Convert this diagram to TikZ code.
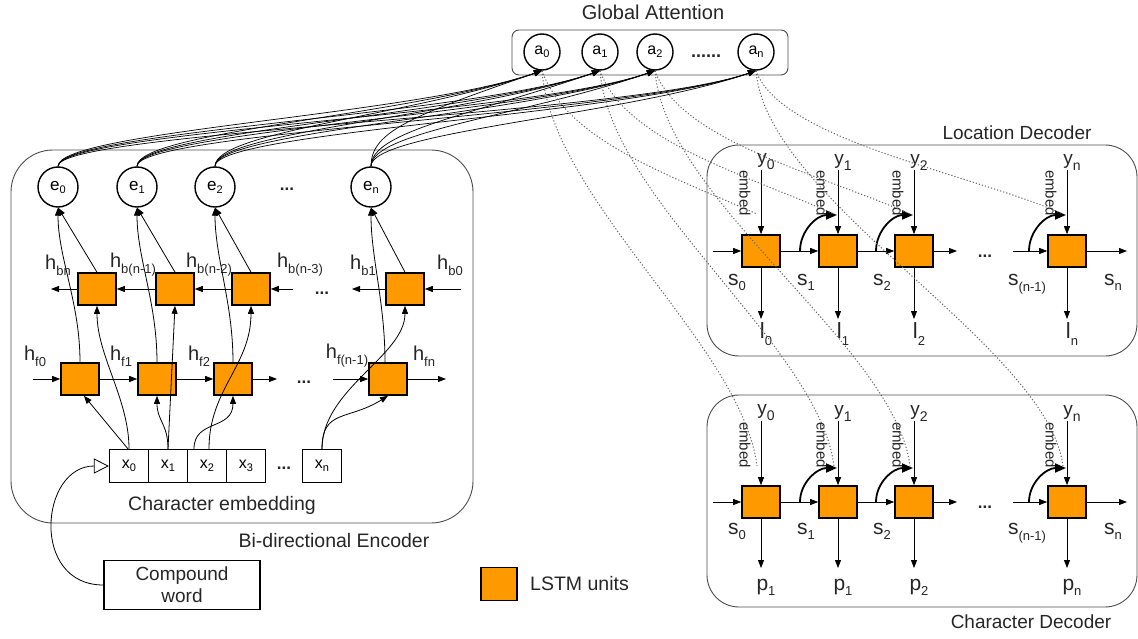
\documentclass[tikz,border=0pt]{standalone}
\usepackage{fontspec}
\setmainfont{Liberation Sans}
\usetikzlibrary{arrows.meta,calc}
\definecolor{lstm}{RGB}{255,153,0}
\newcommand\fs[1]{\fontsize{#1}{#1}\selectfont}
\newcommand\sx[5]{{\fs{#1}#3}\raisebox{-#5pt}{\fs{#2}#4}}
\begin{document}
\begin{tikzpicture}[x=1pt,y=-1pt,
 lstmbox/.style={draw, line width=1.6pt, fill=lstm, minimum width=38pt, minimum height=32pt, inner sep=0},
 ecirc/.style={draw, circle, line width=1.4pt, minimum size=40pt, inner sep=0},
 acirc/.style={draw, circle, line width=1.4pt, minimum size=36pt, inner sep=0},
 cell/.style={draw, line width=1.2pt, minimum width=39pt, minimum height=33pt, inner sep=0},
 arr/.style={-{Triangle[length=8pt,width=6pt]}, line width=0.8pt},
 attn/.style={-{Triangle[length=8pt,width=6pt]}, line width=0.7pt},
 thickarr/.style={-{Triangle[length=11pt,width=9pt]}, line width=1.8pt},
 dotl/.style={line width=1pt, black!60, dash pattern=on 1.2pt off 2pt},
 region/.style={draw, line width=0.9pt, black!70},
 lbl/.style={inner sep=0, text=black!85},
]
\useasboundingbox (0,0) rectangle (1138,639);

% ---------- Global attention ----------
\node[lbl] (gat) at (653,12) {\fs{20}Global Attention};
\draw[region, rounded corners=7pt] (512,30) rectangle (788,75);
\node[acirc] (a0) at (542,52) {\sx{16}{11}{a}{0}{3}};
\node[acirc] (a1) at (600,52) {\sx{16}{11}{a}{1}{3}};
\node[acirc] (a2) at (655,52) {\sx{16}{11}{a}{2}{3}};
\node[acirc] (an) at (756,52) {\sx{16}{11}{a}{n}{3}};
\node[lbl] (adots) at (706,56) {\fs{18}\textbf{......}};

% ---------- Encoder ----------
\draw[region, rounded corners=42pt] (11,150) rectangle (473,523);
\node[lbl] (enclab) at (334,541) {\fs{19.5}Bi-directional Encoder};

\node[ecirc] (e0) at (58,187) {\sx{17}{11}{e}{0}{3}};
\node[ecirc] (e1) at (137,187) {\sx{17}{11}{e}{1}{3}};
\node[ecirc] (e2) at (215,187) {\sx{17}{11}{e}{2}{3}};
\node[ecirc] (en) at (371,187) {\sx{17}{11}{e}{n}{3}};
\node[lbl] (edots) at (287,189) {\fs{17}\textbf{...}};

\node[lstmbox] (bb0) at (97,289) {};
\node[lstmbox] (bb1) at (175,289) {};
\node[lstmbox] (bb2) at (251,289) {};
\node[lstmbox] (bbn) at (405,289) {};
\node[lbl] (bdots) at (322,293) {\fs{17}\textbf{...}};

\node[lstmbox] (fb0) at (80,379) {};
\node[lstmbox] (fb1) at (157,379) {};
\node[lstmbox] (fb2) at (233,379) {};
\node[lstmbox] (fbn) at (388,379) {};
\node[lbl] (fdots) at (304,382) {\fs{17}\textbf{...}};

\node[lbl] (hbn) at (58,265) {\sx{20}{13}{h}{bn}{6}};
\node[lbl] (hb1n) at (133,265) {\sx{20}{13}{h}{b(n-1)}{6}};
\node[lbl] (hb2n) at (209,265) {\sx{20}{13}{h}{b(n-2)}{6}};
\node[lbl] (hb3n) at (300,265) {\sx{20}{13}{h}{b(n-3)}{6}};
\node[lbl] (hb1) at (363,265) {\sx{20}{13}{h}{b1}{6}};
\node[lbl] (hb0) at (450,265) {\sx{20}{13}{h}{b0}{6}};

\node[lbl] (hf0) at (35,356) {\sx{20}{13}{h}{f0}{6}};
\node[lbl] (hf1) at (121,356) {\sx{20}{13}{h}{f1}{6}};
\node[lbl] (hf2) at (199,356) {\sx{20}{13}{h}{f2}{6}};
\node[lbl] (hfn1) at (347,356) {\sx{20}{13}{h}{f(n-1)}{6}};
\node[lbl] (hfn) at (424,356) {\sx{20}{13}{h}{fn}{6}};

\node[cell] (x0) at (129,466) {\sx{16}{11}{x}{0}{3}};
\node[cell] (x1) at (168,466) {\sx{16}{11}{x}{1}{3}};
\node[cell] (x2) at (207,466) {\sx{16}{11}{x}{2}{3}};
\node[cell] (x3) at (246,466) {\sx{16}{11}{x}{3}{3}};
\node[cell] (xn) at (322,466) {\sx{16}{11}{x}{n}{3}};
\node[lbl] (xdots) at (284,468) {\fs{17}\textbf{...}};
\node[lbl] (cemb) at (222,505) {\fs{19.5}Character embedding};

% forward row
\coordinate (fin) at (33,379);
\coordinate (fout2) at (277,379);
\coordinate (finn) at (333,379);
\coordinate (foutn) at (446,379);
\draw[arr] (fin) -- (fb0.west);
\draw[arr] (fb0.east) -- (fb1.west);
\draw[arr] (fb1.east) -- (fb2.west);
\draw[arr] (fb2.east) -- (fout2);
\draw[arr] (finn) -- (fbn.west);
\draw[arr] (fbn.east) -- (foutn);
% backward row
\coordinate (bout0) at (51,289);
\coordinate (bin2) at (293,289);
\coordinate (boutn) at (352,289);
\coordinate (binn) at (461,289);
\draw[arr] (bb0.west) -- (bout0);
\draw[arr] (bb1.west) -- (bb0.east);
\draw[arr] (bb2.west) -- (bb1.east);
\draw[arr] (bin2) -- (bb2.east);
\draw[arr] (bbn.west) -- (boutn);
\draw[arr] (binn) -- (bbn.east);

% inputs to LSTMs
\draw[arr] ($(x0.north)+(-1,0)$) -- ($(fb0.south)+(4,0)$);
\draw[arr] (x0.north) .. controls +(0,-50) and +(0,50) .. (bb0.south);
\draw[arr] (x1.north) .. controls +(0,-25) and +(0,25) .. (fb1.south);
\draw[arr] (x1.north) -- (bb1.south);
\draw[arr] ($(x2.north)+(-13,0)$) .. controls +(0,-30) and +(0,35) .. (fb2.south);
\draw[arr] ($(x2.north)+(2,0)$) .. controls +(0,-60) and +(0,60) .. (bb2.south);
\draw[arr] (xn.north) .. controls +(0,-40) and +(-40,25) .. (fbn.south);
\draw[arr] (xn.north) .. controls +(0,-60) and +(0,50) .. (bbn.south);

% LSTMs to e
\draw[arr] (fb0.north) .. controls +(0,-60) and +(0,50) .. (e0.south);
\draw[arr] (bb0.north) -- (e0.south);
\draw[arr] (fb1.north) .. controls +(0,-60) and +(0,50) .. (e1.south);
\draw[arr] (bb1.north) -- (e1.south);
\draw[arr] (fb2.north) .. controls +(0,-60) and +(0,50) .. (e2.south);
\draw[arr] (bb2.north) -- (e2.south);
\draw[arr] ($(fbn.north)+(-3,0)$) .. controls +(0,-60) and +(0,50) .. (en.south);
\draw[arr] (bbn.north) -- (en.south);

% e to a
\foreach \i in {0,1,2,n}{
  \foreach \j in {0,1,2,n}{
    \draw[attn] (e\i.north) .. controls +(0,-35) and +(-130,45) .. (a\j.south);
  }
}

% compound word
\node[draw, line width=1.4pt, minimum width=156pt, minimum height=49pt, align=center, inner sep=0, text=black!85, font=\fontsize{19}{22}\selectfont] (cw) at (182,585) {Compound\\word};
\draw[-{Triangle[open,length=15pt,width=15pt]}, line width=0.8pt] (cw.west) .. controls (30,585) and (40,466) .. (x0.west);

% legend
\node[draw, line width=1.6pt, fill=lstm, minimum width=36pt, minimum height=33pt, inner sep=0] (leg) at (499,584) {};
\node[lbl, anchor=west] (legt) at (530,584) {\fs{19.5}LSTM units};

% ---------- Decoders ----------
\draw[region, rounded corners=32pt] (707,145) rectangle (1137,356);
\node[lbl] (loclab) at (1017,133) {\fs{19}Location Decoder};
\draw[region, rounded corners=32pt] (707,395) rectangle (1137,607);
\node[lbl] (chlab) at (1031,622) {\fs{19}Character Decoder};

\foreach \n/\x/\p in {0/761/1,1/838/1,2/914/2,n/1067/n}{
  % location
  \node[lstmbox] (L\n) at (\x,251) {};
  \node[lbl] (Ly\n) at (\x+5,162) {\sx{19}{14}{y}{\n}{6}};
  \draw[arr] (L\n.north |- Ly\n.south) -- (L\n.north);
  \node[lbl, rotate=-90] (Le\n) at (\x-16,193) {\fs{15}embed};
  \coordinate (Lo\n) at (\x,319);
  \draw[arr] (L\n.south) -- (Lo\n);
  \node[lbl] (Ll\n) at (\x+5,334) {\sx{22}{13}{l}{\n}{7}};
  \coordinate (Lt\n) at (\x-4,214);
  % character
  \node[lstmbox] (C\n) at (\x,502) {};
  \node[lbl] (Cy\n) at (\x+5,413) {\sx{19}{14}{y}{\n}{6}};
  \draw[arr] (C\n.north |- Cy\n.south) -- (C\n.north);
  \node[lbl, rotate=-90] (Ce\n) at (\x-16,445) {\fs{15}embed};
  \coordinate (Co\n) at (\x,568);
  \draw[arr] (C\n.south) -- (Co\n);
  \node[lbl] (Cp\n) at (\x+5,587) {\sx{21}{13}{p}{\p}{5}};
  \coordinate (Ct\n) at (\x-4,466);
}

% horizontal state arrows
\foreach \D/\yy/\sy in {L/251/282, C/502/531}{
  \coordinate (\D in) at (713,\yy);
  \coordinate (\D out2) at (957,\yy);
  \coordinate (\D inn) at (1013,\yy);
  \coordinate (\D outn) at (1127,\yy);
  \draw[arr] (\D in) -- (\D0.west);
  \draw[arr] (\D0.east) -- (\D1.west);
  \draw[arr] (\D1.east) -- (\D2.west);
  \draw[arr] (\D2.east) -- (\D out2);
  \draw[arr] (\D inn) -- (\D n.west);
  \draw[arr] (\D n.east) -- (\D outn);
  \node[lbl] (\D dots) at (985,\yy+5) {\fs{17}\textbf{...}};
  \node[lbl] (\D s0) at (737,\sy) {\sx{21}{13}{s}{0}{5}};
  \node[lbl] (\D s1) at (806,\sy) {\sx{21}{13}{s}{1}{5}};
  \node[lbl] (\D s2) at (882,\sy) {\sx{21}{13}{s}{2}{5}};
  \node[lbl] (\D sn1) at (1027,\sy+2) {\sx{21}{13}{s}{(n-1)}{6}};
  \node[lbl] (\D sn) at (1113,\sy) {\sx{21}{13}{s}{n}{5}};
}

% feedback embed arrows
\foreach \n/\x in {1/838,2/914,n/1067}{
  \coordinate (Lf\n) at (\x-38,251);
  \coordinate (Lh\n) at (\x-1,215);
  \draw[thickarr] (Lf\n) to[out=90,in=180] (Lh\n);
  \coordinate (Cf\n) at (\x-38,502);
  \coordinate (Ch\n) at (\x-1,468);
  \draw[thickarr] (Cf\n) to[out=90,in=180] (Ch\n);
}

% attention dotted links
\foreach \n in {0,1,2,n}{
  \draw[dotl] (a\n.south) .. controls +(25,70) and +(-90,-40) .. (Lt\n);
  \draw[dotl] (a\n.south) .. controls +(10,130) and +(-15,-120) .. (Ct\n);
}
\end{tikzpicture}
\end{document}
